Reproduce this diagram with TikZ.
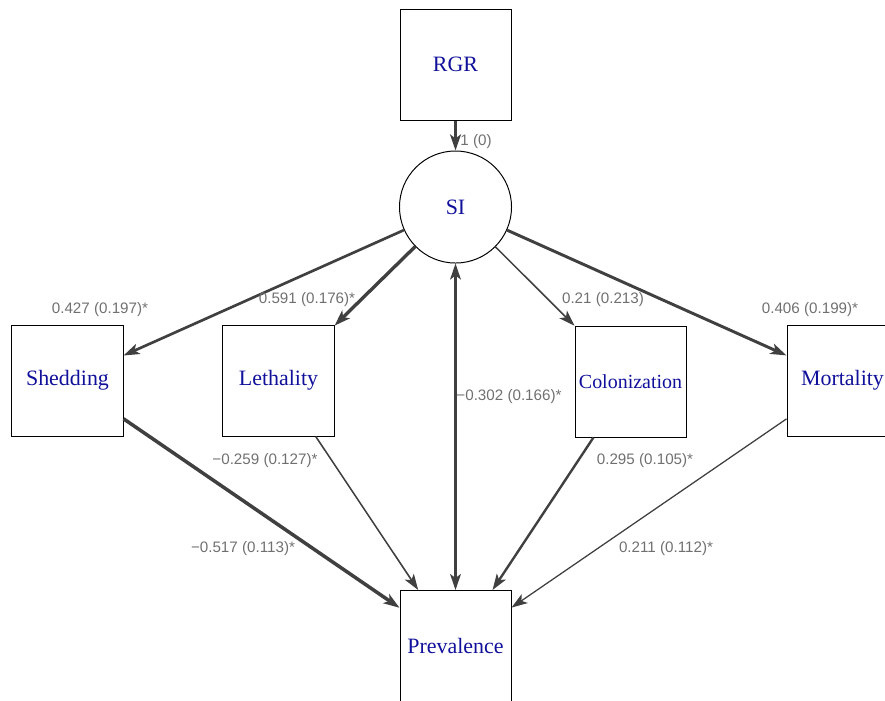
\documentclass[tikz,border=0pt]{standalone}
\usepackage{fontspec}
\setmainfont{Liberation Serif}
\setsansfont{Liberation Sans}
\usepackage{tikz}
\usetikzlibrary{arrows.meta}
\usetikzlibrary{positioning}

\definecolor{edgegray}{HTML}{404040}
\definecolor{coefgray}{HTML}{707070}
\definecolor{varblue}{HTML}{10109A}

\tikzset{
	>={Stealth[length=0.4cm,width=0.27cm,inset=0.1cm]},
	varbox/.style={draw,line width=0.7pt,minimum size=2.775cm,inner sep=0pt,text=varblue,font=\fontsize{15.6pt}{18pt}\selectfont},
	latent/.style={varbox,circle,minimum size=2.8cm},
	coef/.style={text=coefgray,inner sep=0pt,font=\sffamily\fontsize{10.8pt}{13pt}\selectfont},
	path/.style={draw=edgegray,fill=edgegray,->,line width=#1}
}

\begin{document}
\begin{tikzpicture}[x=0.025cm,y=-0.025cm]
			\clip (0,0) rectangle (885,700);

			\node[varbox] (rgr) at (455.5,64.5) {RGR};
			\node[latent] (si) at (455.5,207) {SI};
			\node[varbox] (shed) at (67.5,380.5) {Shedding};
			\node[varbox] (leth) at (278.5,380.5) {Lethality};
			\node[varbox,font=\fontsize{14.2pt}{17pt}\selectfont] (colon) at (630.5,381.5) {Colonization};
			\node[varbox] (mort) at (842.5,380.5) {Mortality};
			\node[varbox] (prev) at (455.5,646) {Prevalence};

			\draw[path=2.2pt] (rgr) -- (si);
			\draw[path=1.9pt] (si) -- (shed);
			\draw[path=2.4pt] (si) -- (leth);
			\draw[path=1.1pt] (si) -- (colon);
			\draw[path=2.1pt] (si) -- (mort);
			\draw[path=2.5pt] (shed) -- (prev);
			\draw[path=1.1pt] (leth) -- (prev);
			\draw[path=1.5pt,<->] (si) -- (prev);
			\draw[path=1.7pt] (colon) -- (prev);
			\draw[path=0.9pt] (mort) -- (prev);

			\node[coef] (c1) at (476,142) {1 (0)};
			\node[coef] (c2) at (100,310) {0.427 (0.197)*};
			\node[coef] (c3) at (307,300) {0.591 (0.176)*};
			\node[coef] (c4) at (603,300) {0.21 (0.213)};
			\node[coef] (c5) at (810,310) {0.406 (0.199)*};
			\node[coef] (c6) at (265,461) {−0.259 (0.127)*};
			\node[coef] (c7) at (509,397) {−0.302 (0.166)*};
			\node[coef] (c8) at (645,461) {0.295 (0.105)*};
			\node[coef] (c9) at (243,549) {−0.517 (0.113)*};
			\node[coef] (c10) at (666,549) {0.211 (0.112)*};
		\end{tikzpicture}
\end{document}
